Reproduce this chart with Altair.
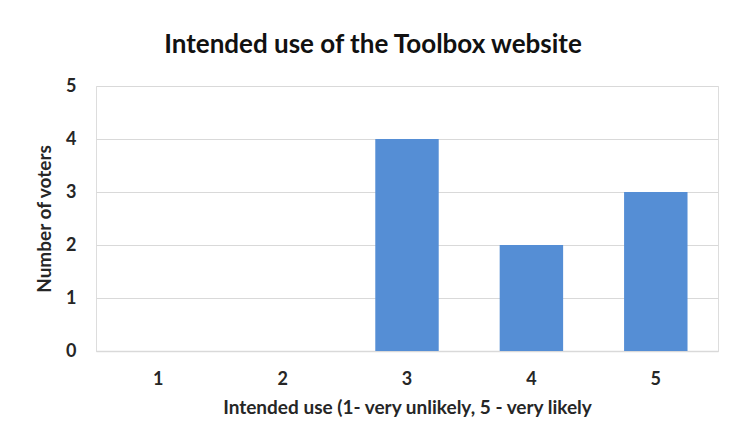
import altair as alt
import pandas as pd

categories = ["1", "2", "3", "4", "5"]
voters = [0, 0, 4, 2, 3]

df = pd.DataFrame({"score": categories, "voters": voters})

FONT = "Lato"
TXT = "#262626"

chart = alt.Chart(df).mark_bar(color="#558ED5").encode(
    x=alt.X("score:N", sort=categories,
            scale=alt.Scale(paddingInner=0.49, paddingOuter=0.245),
            axis=alt.Axis(title="Intended use (1- very unlikely, 5 - very likely",
                          labelAngle=0, ticks=False, labelPadding=19,
                          labelFontSize=18, labelFont=FONT, labelFontWeight="bold",
                          labelColor=TXT, titleFont=FONT, titleFontSize=19,
                          titleFontWeight="bold", titleColor=TXT, titlePadding=10,
                          domainColor="#D9D9D9", domainWidth=1.5)),
    y=alt.Y("voters:Q", scale=alt.Scale(domain=[0, 5], nice=False),
            axis=alt.Axis(title="Number of voters", values=[0, 1, 2, 3, 4, 5],
                          ticks=False, domain=False, labelPadding=20,
                          labelFontSize=18, labelFont=FONT, labelFontWeight="bold",
                          labelColor=TXT, titleFont=FONT, titleFontSize=19,
                          titleFontWeight="bold", titleColor=TXT, titlePadding=11,
                          gridColor="#D9D9D9", gridWidth=1.2)),
).properties(
    width=622, height=265,
    title=alt.TitleParams("Intended use of the Toolbox website", font=FONT,
                          fontSize=26, fontWeight="bold", color="#111111",
                          anchor="middle", offset=19, dx=-34),
    autosize=alt.AutoSizeParams(type="none"),
    padding={"left": 88, "top": 78, "right": 7, "bottom": 84},
).configure_view(stroke=None).configure(background="white")

chart.save("out.html", embed_options={"renderer": "svg", "actions": False})
